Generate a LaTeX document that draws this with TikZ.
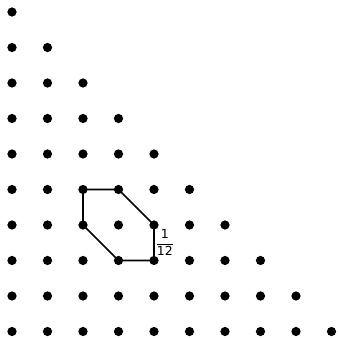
\documentclass[tikz,border=0pt]{standalone}
\usepackage{amsmath}
\usepackage{fontspec}
\setmainfont{DejaVu Sans}
\usepackage{tikz}
\usetikzlibrary{positioning,calc}

\begin{document}
\begin{tikzpicture}[x=1cm,y=1cm, pt/.style={circle,fill=black,inner sep=0pt,minimum size=2.6mm}, edge/.style={line width=1.4pt,draw=black}]
\useasboundingbox (-0.338,-0.169) rectangle (9.183,9.338);
\foreach \j in {0,...,9}{\pgfmathtruncatemacro{\n}{9-\j}\foreach \i in {0,...,\n}{\node[pt] (p-\i-\j) at (\i,\j) {};}}
\draw[edge] (p-2-4.center)--(p-3-4.center)--(p-4-3.center)--(p-4-2.center)--(p-3-2.center)--(p-2-3.center)--cycle;
\coordinate (mid) at ($(p-4-3)!0.5!(p-4-2)$);
\node[right=0mm of mid,inner sep=1pt] (area) {$\dfrac{\text{1}}{\text{12}}$};
\end{tikzpicture}
\end{document}
